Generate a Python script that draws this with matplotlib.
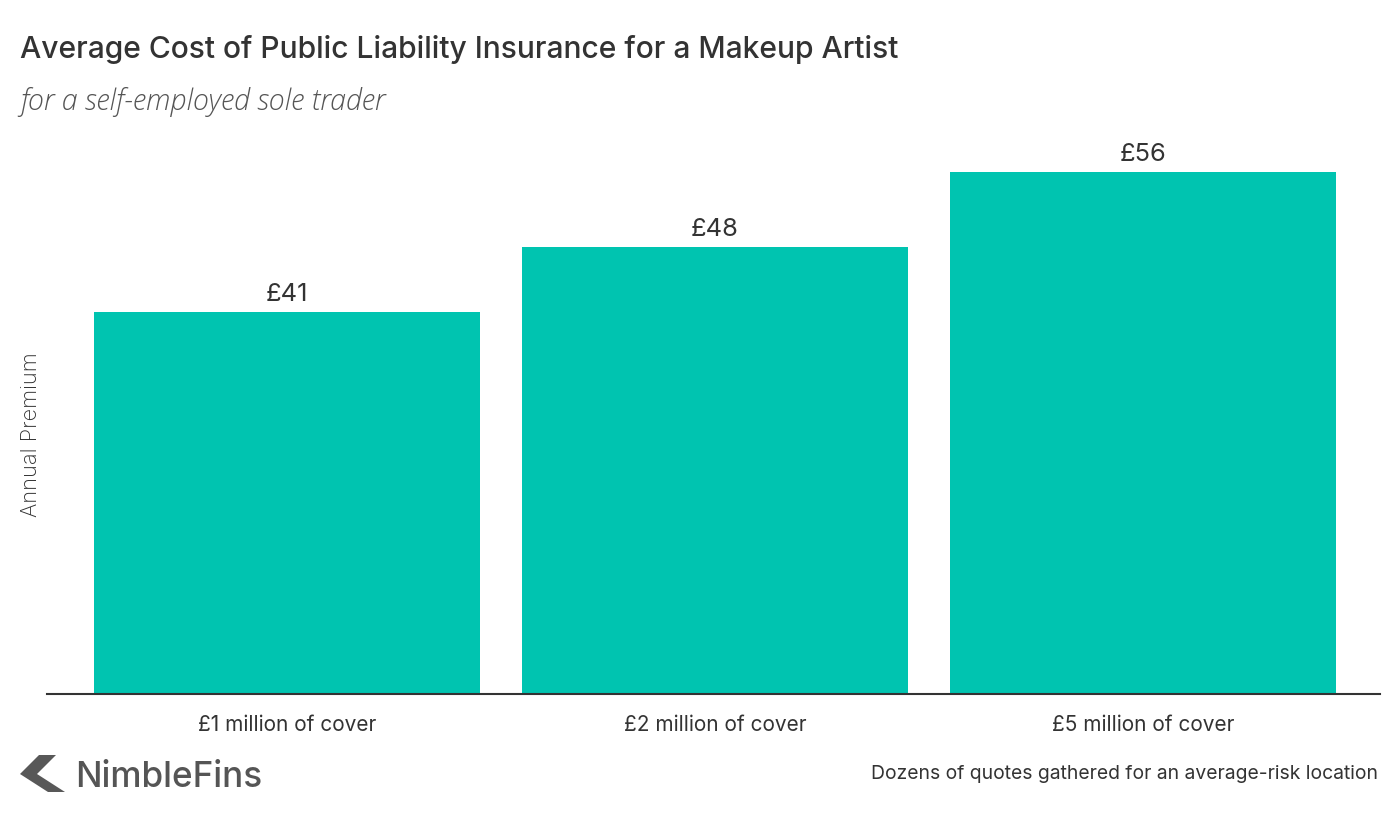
import matplotlib
matplotlib.use("Agg")
import matplotlib.pyplot as plt
from matplotlib.patches import Polygon

plt.rcParams['font.family'] = ['Inter', 'DejaVu Sans']

categories = ["£1 million of cover", "£2 million of cover", "£5 million of cover"]
values = [41, 48, 56]
value_labels = ["£41", "£48", "£56"]

BAR = "#00C4B0"
DARK = "#333333"

fig = plt.figure(figsize=(14, 8.22), dpi=100)
ax = fig.add_axes([47/1400, 128/822, 1333/1400, 554/822])
x = range(len(categories))
bars = ax.bar(x, values, width=0.9, color=BAR)
for xi, v, lab in zip(x, values, value_labels):
    ax.text(xi, v + 0.6, lab, ha='center', va='bottom', fontsize=18.4, color=DARK)

ax.set_xlim(-0.5607, 2.5537)
ax.set_ylim(0, 554/9.3214)
ax.set_xticks(list(x))
ax.set_xticklabels(categories, fontsize=15, color=DARK)
ax.tick_params(axis='x', length=0, pad=15)
ax.set_yticks([])
for s in ['top', 'right', 'left']:
    ax.spines[s].set_visible(False)
ax.spines['bottom'].set_color(DARK)
ax.spines['bottom'].set_linewidth(1.5)

fig.text(31/1400, 1 - 435/822, "Annual Premium", rotation=90, ha='center', va='center',
         fontsize=15.7, color=DARK, fontweight='light')

fig.text(20/1400, 1 - 49/822, "Average Cost of Public Liability Insurance for a Makeup Artist",
         ha='left', va='center', fontsize=21.6, color=DARK, fontweight='medium')
fig.text(20/1400, 1 - 102/822, "for a self-employed sole trader", ha='left', va='center',
         fontsize=20.6, color="#555555", style='italic', family=['Open Sans', 'DejaVu Sans'],
         fontweight='light')
fig.text(1378/1400, 1 - 774/822, "Dozens of quotes gathered for an average-risk location",
         ha='right', va='center', fontsize=13.9, color=DARK)

# Logo
def fx(px):
    return px / 1400
def fy(py):
    return 1 - py / 822
upper = [(20, 774), (39, 755), (56, 755), (37, 774)]
lower = [(20, 774), (37, 774), (65, 792), (48, 792)]
for poly in (upper, lower):
    fig.patches.append(Polygon([(fx(a), fy(b)) for a, b in poly], closed=True,
                               transform=fig.transFigure, facecolor="#585858",
                               edgecolor='none'))
fig.text(75/1400, 1 - 777/822, "NimbleFins", ha='left', va='center', fontsize=25.3,
         color="#555555", fontweight='medium')

fig.savefig("out.png", dpi=100)
